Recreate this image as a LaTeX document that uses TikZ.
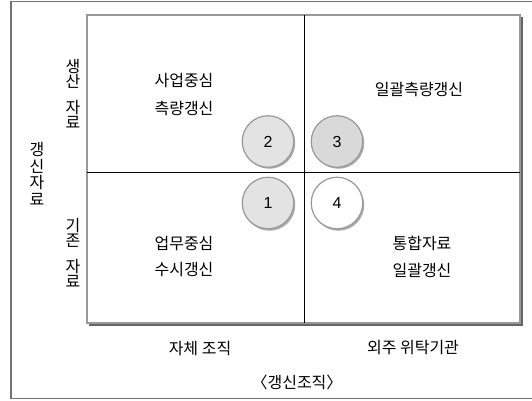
\documentclass[tikz,border=0pt]{standalone}
\usepackage{fontspec}
\setmainfont{Noto Sans CJK KR}
\newfontfamily\numfont{Liberation Sans}
\definecolor{framegray}{gray}{0.45}
\definecolor{boxgray}{gray}{0.6}
\definecolor{shadowgray}{gray}{0.4}
\begin{document}
\begin{tikzpicture}[x=1pt,y=-1pt,
  lab/.style={font=\fontsize{16}{18}\selectfont, inner sep=0pt, align=center},
  vlab/.style={font=\fontsize{16}{17.5}\selectfont, inner sep=0pt, align=center},
  num/.style={circle, minimum size=51.5pt, inner sep=0pt, draw=gray!80, line width=1.2pt, font=\numfont\fontsize{16}{18}\selectfont},
  numshadow/.style={circle, minimum size=51.5pt, inner sep=0pt, fill=gray!65, draw=none}]
\useasboundingbox (0,0) rectangle (532,400);
\begin{scope}
\clip (0,0) rectangle (532,400);
\draw[framegray, line width=1.2pt] (11,1.5) rectangle (540,398.5);
\end{scope}
% inner box shadow
\fill[shadowgray] (89,321) rectangle (522.5,325.5);
\fill[shadowgray] (518.5,17) rectangle (522.5,325.5);
\draw[boxgray, line width=1.5pt, fill=white] (87,15) rectangle (520,323);
\coordinate (top) at (304,15);
\coordinate (bot) at (304,323);
\coordinate (lft) at (87,172);
\coordinate (rgt) at (520,172);
\draw[black, line width=0.9pt] (top) -- (bot);
\draw[black, line width=0.9pt] (lft) -- (rgt);
% circles
\node[numshadow] (s2) at (269.5,143) {};
\node[numshadow] (s3) at (338.5,143) {};
\node[numshadow] (s1) at (269.5,205) {};
\node[numshadow] (s4) at (338.5,205) {};
\node[num, fill=gray!22] (c2) at (268,141.5) {2};
\node[num, fill=gray!30] (c3) at (337,141.5) {3};
\node[num, fill=gray!22] (c1) at (268,203) {1};
\node[num, fill=white] (c4) at (337,203) {4};
% quadrant texts
\node[lab] (q1a) at (184,81) {사업중심};
\node[lab] (q1b) at (184,108) {측량갱신};
\node[lab] (q2) at (419,89) {일괄측량갱신};
\node[lab] (q3a) at (184,243) {업무중심};
\node[lab] (q3b) at (184,270) {수시갱신};
\node[lab] (q4a) at (422,243) {통합자료};
\node[lab] (q4b) at (422,270) {일괄갱신};
% left labels
\node[vlab] (l1) at (73,94) {생\\[-2pt]산\\[8pt]자\\[-2pt]료};
\node[vlab] (l0) at (37,174) {갱\\[-1pt]신\\[-1pt]자\\[-1pt]료};
\node[vlab] (l2) at (73,253) {기\\[-2pt]존\\[8pt]자\\[-2pt]료};
% bottom labels
\node[lab] (b1) at (200,348) {자체 조직};
\node[lab] (b2) at (413,348) {외주 위탁기관};
\node[lab] (b0) at (297,382) {〈갱신조직〉};
\end{tikzpicture}
\end{document}
